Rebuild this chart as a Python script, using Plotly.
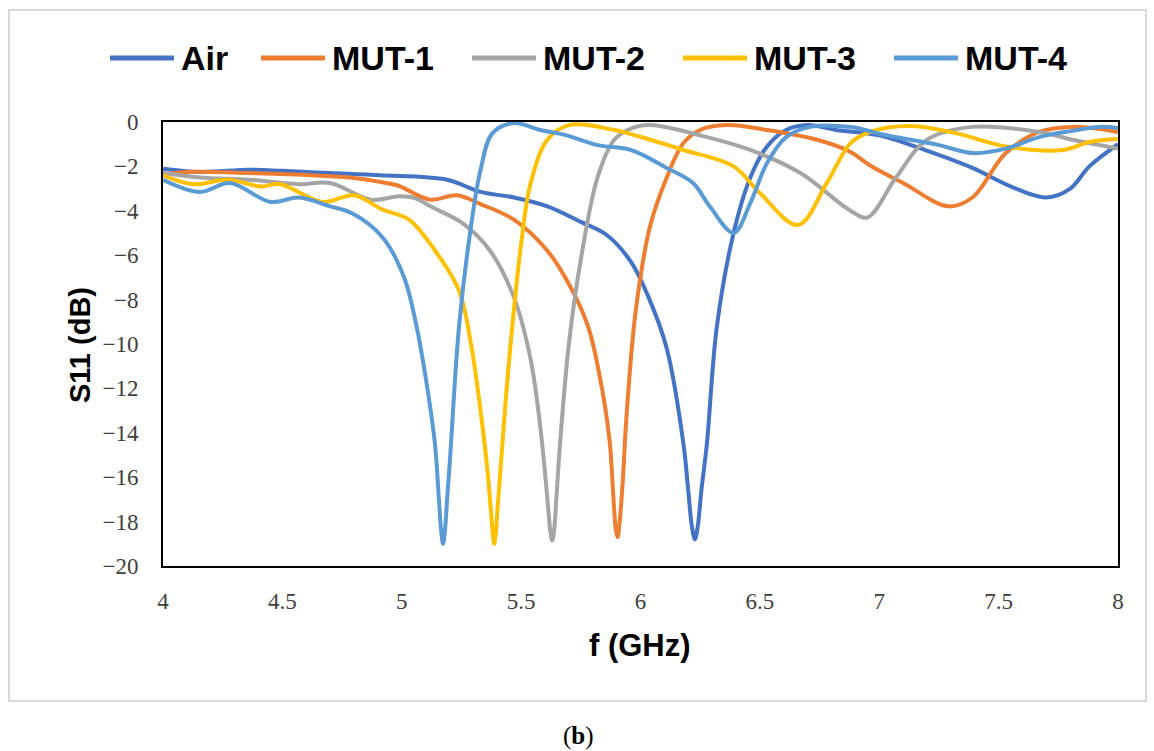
import plotly.graph_objects as go

# ---- data ----
f_air = [4.0, 4.155, 4.36, 4.5, 4.7, 4.91, 5.19, 5.33, 5.47, 5.61, 5.75, 5.86, 5.96, 6.03, 6.11, 6.18, 6.20, 6.215,
         6.228, 6.24, 6.255, 6.278, 6.32, 6.39, 6.46, 6.53, 6.61, 6.70, 6.82, 7.0, 7.19, 7.39, 7.55, 7.70, 7.80, 7.88, 8.0]
s_air = [-2.1, -2.25, -2.15, -2.2, -2.3, -2.4, -2.6, -3.15, -3.4, -3.8, -4.5, -5.1, -6.3, -7.8, -10.2, -14.5, -16.6, -18.2,
         -18.8, -18.2, -16.6, -14.5, -9.2, -5.0, -2.5, -1.1, -0.36, -0.14, -0.36, -0.6, -1.26, -2.07, -2.9, -3.4, -3.0, -2.0, -1.0]

f_mut1 = [4.0, 4.1, 4.36, 4.78, 4.91, 4.98, 5.12, 5.23, 5.33, 5.47, 5.61, 5.70, 5.78, 5.83, 5.87, 5.887, 5.897, 5.904,
          5.912, 5.925, 5.943, 5.98, 6.04, 6.11, 6.18, 6.25, 6.36, 6.53, 6.74, 6.88, 6.96, 7.10, 7.29, 7.39, 7.53, 7.67, 7.81, 8.0]
s_mut1 = [-2.35, -2.25, -2.3, -2.5, -2.7, -2.85, -3.5, -3.3, -3.7, -4.4, -5.8, -7.3, -9.2, -11.5, -14.3, -17.0, -18.4, -18.7,
          -18.1, -16.3, -13.0, -8.5, -4.7, -2.5, -0.95, -0.36, -0.14, -0.36, -0.8, -1.35, -1.95, -2.75, -3.8, -3.4, -1.4, -0.45, -0.22, -0.45]

f_mut2 = [4.0, 4.155, 4.36, 4.57, 4.70, 4.87, 4.99, 5.06, 5.12, 5.26, 5.37, 5.47, 5.54, 5.58, 5.60, 5.615, 5.623, 5.63,
          5.638, 5.648, 5.663, 5.70, 5.75, 5.82, 5.89, 5.96, 6.04, 6.25, 6.46, 6.67, 6.88, 6.95, 7.07, 7.20, 7.39, 7.67, 7.81, 8.0]
s_mut2 = [-2.3, -2.5, -2.6, -2.8, -2.75, -3.5, -3.35, -3.45, -3.8, -4.6, -5.8, -7.9, -10.7, -13.7, -15.8, -17.6, -18.5, -18.85,
          -18.4, -16.9, -14.5, -10.0, -6.2, -2.5, -0.8, -0.3, -0.14, -0.6, -1.26, -2.3, -4.0, -4.3, -2.5, -0.8, -0.22, -0.45, -0.8, -1.2]

f_mut3 = [4.0, 4.13, 4.27, 4.41, 4.49, 4.67, 4.80, 4.92, 5.03, 5.14, 5.24, 5.29, 5.33, 5.36, 5.374, 5.381, 5.387,
          5.393, 5.40, 5.411, 5.45, 5.50, 5.54, 5.61, 5.70, 5.89, 6.04, 6.18, 6.39, 6.50, 6.66, 6.78, 6.88, 6.96, 7.13,
          7.32, 7.53, 7.77, 7.88, 8.0]
s_mut3 = [-2.4, -2.8, -2.6, -2.9, -2.8, -3.6, -3.3, -3.95, -4.4, -5.8, -7.6, -10.0, -13.0, -15.8, -17.6, -18.5, -19.0,
          -18.6, -17.6, -16.0, -10.7, -5.5, -2.75, -0.8, -0.14, -0.36, -0.8, -1.26, -2.0, -3.2, -4.64, -2.75, -0.95, -0.45, -0.18,
          -0.5, -1.1, -1.26, -0.9, -0.77]

f_mut4 = [4.0, 4.155, 4.28, 4.45, 4.57, 4.70, 4.79, 4.92, 5.01, 5.06, 5.10, 5.139, 5.155, 5.165, 5.173, 5.181, 5.19,
          5.202, 5.24, 5.29, 5.33, 5.38, 5.47, 5.58, 5.69, 5.82, 5.96, 6.11, 6.22, 6.29, 6.39, 6.46, 6.53, 6.61, 6.71,
          6.88, 7.03, 7.25, 7.39, 7.53, 7.67, 7.81, 7.92, 8.0]
s_mut4 = [-2.6, -3.15, -2.75, -3.6, -3.4, -3.8, -4.1, -5.2, -7.0, -9.1, -11.5, -14.5, -16.9, -18.4, -19.0, -18.4, -17.0,
          -15.2, -9.2, -4.7, -2.16, -0.5, -0.05, -0.36, -0.6, -1.04, -1.26, -2.07, -2.75, -3.8, -5.0, -3.65, -1.85, -0.68, -0.22,
          -0.23, -0.6, -1.04, -1.4, -1.2, -0.68, -0.4, -0.22, -0.27]

names = ["Air", "MUT-1", "MUT-2", "MUT-3", "MUT-4"]
colors = ["#4472C4", "#ED7D31", "#A5A5A5", "#FFC000", "#5B9BD5"]
series = [(f_air, s_air), (f_mut1, s_mut1), (f_mut2, s_mut2), (f_mut3, s_mut3), (f_mut4, s_mut4)]

x_ticks = [4, 4.5, 5, 5.5, 6, 6.5, 7, 7.5, 8]
x_ticktext = ["4", "4.5", "5", "5.5", "6", "6.5", "7", "7.5", "8"]
y_ticks = [0, -2, -4, -6, -8, -10, -12, -14, -16, -18, -20]

# ---- layout helpers (pixel -> paper) ----
L, R, T, B = 163, 1118, 122, 566
W, H = R - L, B - T
def px(x):
    return (x - L) / W
def py(y):
    return (B - y) / H

fig = go.Figure()
for (fx, sy), n, c in zip(series, names, colors):
    fig.add_trace(go.Scatter(x=fx, y=sy, name=n, mode="lines",
                             line=dict(color=c, width=4, shape="spline", smoothing=1.0),
                             showlegend=False))

shapes = []
annotations = []
# outer light-gray frame
shapes.append(dict(type="rect", xref="paper", yref="paper",
                   x0=px(9), x1=px(1146), y0=py(701), y1=py(10),
                   line=dict(color="#D9D9D9", width=2), fillcolor="rgba(0,0,0,0)", layer="below"))

# manual legend
leg_line_x = [110, 261, 472, 683, 894]
leg_y = 58
for lx, n, c in zip(leg_line_x, names, colors):
    shapes.append(dict(type="line", xref="paper", yref="paper",
                       x0=px(lx), x1=px(lx + 64), y0=py(leg_y), y1=py(leg_y),
                       line=dict(color=c, width=5)))
    annotations.append(dict(text="<b>%s</b>" % n, xref="paper", yref="paper",
                            x=px(lx + 69), y=py(leg_y), xanchor="left", yanchor="middle",
                            showarrow=False,
                            font=dict(family="Liberation Sans, Arial", size=34, color="black")))

# axis titles
annotations.append(dict(text="<b>S11 (dB)</b>", xref="paper", yref="paper",
                        x=px(80), y=py(345), xanchor="center", yanchor="middle", textangle=-90,
                        showarrow=False, font=dict(family="Liberation Sans, Arial", size=29, color="black")))
annotations.append(dict(text="<b>f (GHz)</b>", xref="paper", yref="paper",
                        x=px(640), y=py(645), xanchor="center", yanchor="middle",
                        showarrow=False, font=dict(family="Liberation Sans, Arial", size=31, color="black")))
# sub-figure label
annotations.append(dict(text="(<b>b</b>)", xref="paper", yref="paper",
                        x=px(578), y=py(736), xanchor="center", yanchor="middle",
                        showarrow=False, font=dict(family="Liberation Serif, Times New Roman", size=25, color="black")))

fig.update_layout(
    width=1154, height=751,
    margin=dict(l=L, r=1154 - R, t=T, b=751 - B),
    paper_bgcolor="white", plot_bgcolor="white",
    shapes=shapes, annotations=annotations,
    showlegend=False,
)
fig.update_xaxes(range=[4, 8], tickvals=x_ticks, ticktext=x_ticktext,
                 showgrid=False, zeroline=False, showline=True, linecolor="black", linewidth=2,
                 mirror=True, ticks="", ticklabelstandoff=13,
                 tickfont=dict(family="Liberation Serif, Times New Roman", size=23, color="#404040"))
fig.update_yaxes(range=[-20, 0], tickvals=y_ticks,
                 showgrid=False, zeroline=False, showline=True, linecolor="black", linewidth=2,
                 mirror=True, ticks="", ticklabelstandoff=18,
                 tickfont=dict(family="Liberation Serif, Times New Roman", size=23, color="#404040"))

fig.write_html("out.html")
